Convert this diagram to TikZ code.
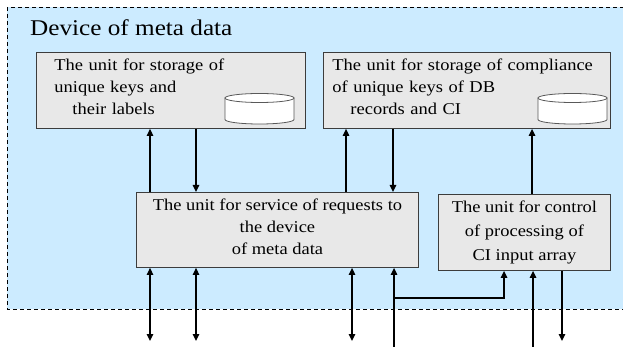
\documentclass[tikz,border=0pt]{standalone}
\usepackage{fontspec}
\setmainfont{Liberation Serif}[FakeStretch=1.12]
\usetikzlibrary{arrows.meta}
\definecolor{bgblue}{RGB}{204,235,255}
\definecolor{boxgray}{RGB}{232,232,232}
\definecolor{edgegray}{RGB}{60,60,60}
\tikzset{
  unitbox/.style={draw=edgegray, fill=boxgray, line width=0.9pt, anchor=north west, inner sep=0pt},
  boxtext/.style={inner sep=0pt, font=\rmfamily\fontsize{16.5pt}{22pt}\selectfont},
  arr/.style={line width=1.3pt, -{Triangle[length=7pt,width=6.5pt]}},
  dbl/.style={line width=1.3pt, {Triangle[length=7pt,width=6.5pt]}-{Triangle[length=7pt,width=6.5pt]}},
  store/.style={draw=edgegray!85, fill=white, line width=0.8pt},
  devframe/.style={draw=black, fill=bgblue, line width=0.8pt, dash pattern=on 4pt off 3pt}
}
\begin{document}
\begin{tikzpicture}[x=1pt,y=-1pt]
\clip (0,0) rectangle (623,347);
\fill[white] (0,0) rectangle (623,347);
\path[devframe] (7,7) rectangle (640,309);
\node[anchor=base west, inner sep=0pt, font=\rmfamily\fontsize{22.5pt}{27pt}\selectfont] (title) at (30,36) {Device of meta data};

\node[unitbox, minimum width=269pt, minimum height=76pt] (b1) at (36,52) {};
\node[unitbox, minimum width=287pt, minimum height=76pt] (b2) at (323,52) {};
\node[unitbox, minimum width=282pt, minimum height=75pt] (b3) at (136,192) {};
\node[unitbox, minimum width=172pt, minimum height=76pt] (b4) at (438,194) {};

\node[boxtext, text width=233pt, align=left] (t1) at ([yshift=4pt]b1.center)
  {The unit for storage of\\unique keys and\\\hspace*{18pt}their labels};
\node[boxtext, text width=269pt, align=left] (t2) at ([yshift=4pt]b2.center)
  {The unit for storage of compliance\\of unique keys of DB\\\hspace*{18pt}records and CI};
\node[boxtext, align=center] (t3) at ([yshift=3pt]b3.center)
  {The unit for service of requests to\\the device\\of meta data};
\node[boxtext, align=center, font=\rmfamily\fontsize{16.5pt}{24pt}\selectfont] (t4) at (b4.center)
  {The unit for control\\of processing of\\CI input array};

% storage cylinders
\path[store] (225,98) -- (225,119.5) arc[start angle=180, end angle=360, x radius=34.5pt, y radius=4.5pt] -- (294,98) -- cycle;
\path[store] (259.5,98) ellipse[x radius=34.5pt, y radius=4.5pt];
\path[store] (538,98) -- (538,119.5) arc[start angle=180, end angle=360, x radius=34.5pt, y radius=4.5pt] -- (607,98) -- cycle;
\path[store] (572.5,98) ellipse[x radius=34.5pt, y radius=4.5pt];

% coordinates
\coordinate (pa) at (150,341);
\coordinate (pb) at (196,341);
\coordinate (xc) at (346,0);
\coordinate (xd) at (393,0);
\coordinate (xe) at (532,0);
\coordinate (pc) at (352,341);
\coordinate (pd) at (394,350);
\coordinate (pj) at (394,298);
\coordinate (pk) at (504,298);
\coordinate (pe) at (533,350);
\coordinate (pf) at (562,341);

\draw[arr] (pa |- b3.north) -- (pa |- b1.south);
\draw[arr] (pb |- b1.south) -- (pb |- b3.north);
\draw[arr] (xc |- b3.north) -- (xc |- b2.south);
\draw[arr] (xd |- b2.south) -- (xd |- b3.north);
\draw[arr] (xe |- b4.north) -- (xe |- b2.south);
\draw[dbl] (pa |- b3.south) -- (pa);
\draw[dbl] (pb |- b3.south) -- (pb);
\draw[dbl] (pc |- b3.south) -- (pc);
\draw[arr] (pd) -- (pd |- b3.south);
\draw[arr] (pj) -| (pk |- b4.south);
\draw[arr] (pe) -- (pe |- b4.south);
\draw[arr] (pf |- b4.south) -- (pf);
\end{tikzpicture}
\end{document}
